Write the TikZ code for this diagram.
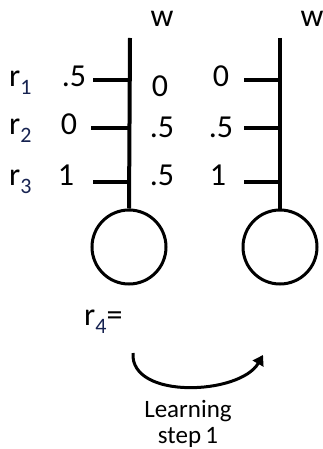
\documentclass[tikz,border=0pt]{standalone}
\usepackage{fontspec}
\setmainfont{Carlito}
\usetikzlibrary{arrows.meta}
\definecolor{subblue}{RGB}{22,34,80}
\tikzset{
  stem/.style={line width=4pt},
  tick/.style={line width=4pt},
  neuron/.style={circle, draw, line width=3pt, minimum size=74pt, inner sep=0pt},
  num/.style={font=\fontsize{32}{32}\selectfont, inner sep=0pt, anchor=base},
  lbl/.style={font=\fontsize{32}{32}\selectfont, inner sep=0pt, anchor=base west},
  captext/.style={font=\fontsize{25}{26}\selectfont, inner sep=0pt, align=center},
}
\newcommand{\rsub}[1]{r\raisebox{-8pt}{\textcolor{subblue}{\fontsize{22}{22}\selectfont #1}}}
\begin{document}
\begin{tikzpicture}[x=1pt,y=-1pt]
\useasboundingbox (0,0) rectangle (323,449);
% left unit
\coordinate (ltop) at (130,38);
\node[neuron] (lc) at (129,247) {};
\draw[stem] (ltop) -- (lc.north);
\coordinate (lt1) at (130,80); \coordinate (lt1e) at (93,80);
\coordinate (lt2) at (130,128); \coordinate (lt2e) at (91,128);
\coordinate (lt3) at (130,182); \coordinate (lt3e) at (93,182);
\draw[tick] (lt1) -- (lt1e);
\draw[tick] (lt2) -- (lt2e);
\draw[tick] (lt3) -- (lt3e);
% right unit
\coordinate (rtop) at (280,38);
\node[neuron] (rc) at (280,247) {};
\draw[stem] (rtop) -- (rc.north);
\coordinate (rt1) at (280,80); \coordinate (rt1e) at (244,80);
\coordinate (rt2) at (280,128); \coordinate (rt2e) at (244,128);
\coordinate (rt3) at (280,182); \coordinate (rt3e) at (244,182);
\draw[tick] (rt1) -- (rt1e);
\draw[tick] (rt2) -- (rt2e);
\draw[tick] (rt3) -- (rt3e);
% w labels
\node[num] (w1) at (162,27) {w};
\node[num] (w2) at (312,27) {w};
% r labels
\node[lbl] (r1) at (9,87) {\rsub{1}};
\node[lbl] (r2) at (9,135) {\rsub{2}};
\node[lbl] (r3) at (9,185) {\rsub{3}};
\node[lbl] (r4) at (84,325) {\rsub{4}=};
% left inputs
\node[num] (a1) at (74,87) {.5};
\node[num] (a2) at (69,135) {0};
\node[num] (a3) at (66,185) {1};
% middle weights
\node[num] (m1) at (160,97) {0};
\node[num] (m2) at (162,138) {.5};
\node[num] (m3) at (162,185) {.5};
% right weights
\node[num] (b1) at (221,87) {0};
\node[num] (b2) at (221,138) {.5};
\node[num] (b3) at (218,185) {1};
% arrow
\coordinate (as) at (133,353);
\coordinate (ae) at (263,355);
\draw[line width=3pt, -{Triangle[length=10pt,width=12pt]}] (as) .. controls (130,400) and (240,395) .. (ae);
\node[captext, anchor=base] (l1) at (188,417) {Learning};
\node[captext, anchor=base] (l2) at (188,443) {step\,1};
\end{tikzpicture}
\end{document}
